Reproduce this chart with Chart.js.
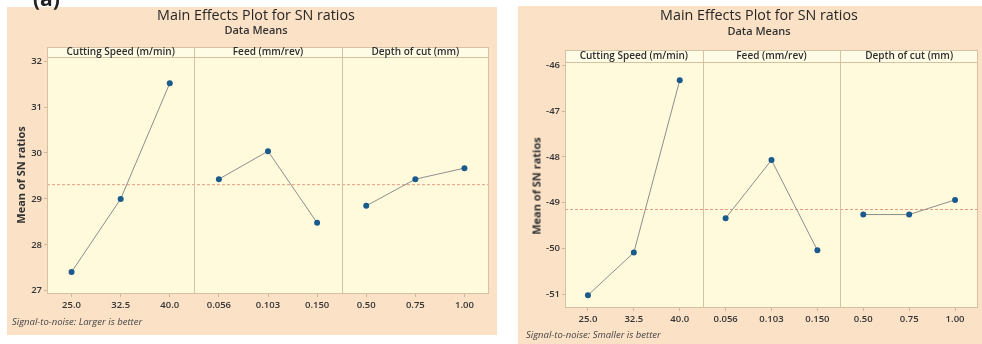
<!DOCTYPE html>
<html>
<head>
<meta charset="utf-8">
<script src="https://cdn.jsdelivr.net/npm/chart.js@4.4.1/dist/chart.umd.min.js"></script>
<style>
  body { margin: 0; width: 982px; height: 344px; overflow: hidden; background: #fff; font-family: "Open Sans", sans-serif; color: #333; }
  .sheet { position: absolute; background: #fbe2c7; }
  .sheet canvas { position: absolute; left: 0; top: 0; }
  .title { position: absolute; left: 0; width: 100%; text-align: center; font-size: 14.3px; color: #262626; }
  .subtitle { position: absolute; left: 0; width: 100%; text-align: center; font-size: 11px; font-weight: 600; }
  .ytitle { position: absolute; font-size: 11px; font-weight: 700; white-space: nowrap; transform: translate(-50%, -50%) rotate(-90deg); }
  .note { position: absolute; font-size: 9.5px; font-style: italic; color: #444; white-space: nowrap; }
  .tag { position: absolute; left: 33px; top: -16px; font-size: 21px; font-weight: 700; color: #222; }
</style>
</head>
<body>
<div class="sheet" id="sheetL" style="left:7px; top:7px; width:490px; height:328px;">
  <canvas id="chartL" width="490" height="328"></canvas>
  <div class="title" style="top:-2px; left:4px;">Main Effects Plot for SN ratios</div>
  <div class="subtitle" style="top:15px; left:4px;">Data Means</div>
  <div class="ytitle" style="left:13px; top:168px;">Mean of SN ratios</div>
  <div class="note" style="left:5px; top:308px;">Signal-to-noise: Larger is better</div>
</div>
<div class="tag">(a)</div>
<div class="sheet" id="sheetR" style="left:518px; top:6px; width:464px; height:338px;">
  <canvas id="chartR" width="464" height="338"></canvas>
  <div class="title" style="top:-1px; left:9px;">Main Effects Plot for SN ratios</div>
  <div class="subtitle" style="top:17px; left:9px;">Data Means</div>
  <div class="ytitle" style="left:18px; top:180px;">Mean of SN ratios</div>
  <div class="note" style="left:8px; top:322px;">Signal-to-noise: Smaller is better</div>
</div>
<script>
// 因子名と水準
const factorNames = ["Cutting Speed (m/min)", "Feed (mm/rev)", "Depth of cut (mm)"];
const speedLevels = ["25.0", "32.5", "40.0"];
const feedLevels = ["0.056", "0.103", "0.150"];
const depthLevels = ["0.50", "0.75", "1.00"];

// (a) Larger is better
const speedLarger = [27.41, 29.0, 31.52];
const feedLarger = [29.43, 30.04, 28.48];
const depthLarger = [28.85, 29.43, 29.67];
const meanLarger = 29.31;
const ticksLarger = [27, 28, 29, 30, 31, 32];

// Smaller is better
const speedSmaller = [-51.02, -50.09, -46.33];
const feedSmaller = [-49.34, -48.07, -50.04];
const depthSmaller = [-49.26, -49.26, -48.94];
const meanSmaller = -49.15;
const ticksSmaller = [-51, -50, -49, -48, -47, -46];

const levelGroups = [speedLevels, feedLevels, depthLevels];

// パネル背景・区切り・平均線
const panelPlugin = {
  id: "panels",
  beforeDraw(chart, args, opts) {
    const { ctx, chartArea: a } = chart;
    ctx.save();
    ctx.fillStyle = "#fffadb";
    ctx.fillRect(a.left, a.top, a.right - a.left, a.bottom - a.top);
    ctx.fillStyle = "#fffce6";
    ctx.fillRect(a.left, a.top - opts.header, a.right - a.left, opts.header);
    ctx.restore();
  },
  beforeDatasetsDraw(chart, args, opts) {
    const { ctx, chartArea: a, scales } = chart;
    const x = scales.x;
    const y = scales.y;
    ctx.save();
    // 平均線
    const my = y.getPixelForValue(opts.mean);
    ctx.strokeStyle = "#e49b86";
    ctx.lineWidth = 1;
    ctx.setLineDash([3, 2]);
    ctx.beginPath();
    ctx.moveTo(a.left, my);
    ctx.lineTo(a.right, my);
    ctx.stroke();
    ctx.setLineDash([]);

    // 枠と区切り
    ctx.strokeStyle = "#d6c1a3";
    ctx.strokeRect(a.left + 0.5, a.top - opts.header + 0.5, a.right - a.left - 1, a.bottom - a.top + opts.header - 1);
    ctx.beginPath();
    ctx.moveTo(a.left, a.top + 0.5);
    ctx.lineTo(a.right, a.top + 0.5);
    ctx.stroke();
    const bounds = [a.left];
    for (let g = 1; g < levelGroups.length; g++) {
      const edge = (x.getPixelForValue(g * 3 - 1) + x.getPixelForValue(g * 3)) / 2;
      bounds.push(edge);
      ctx.beginPath();
      ctx.moveTo(Math.round(edge) + 0.5, a.top - opts.header);
      ctx.lineTo(Math.round(edge) + 0.5, a.bottom);
      ctx.stroke();
    }
    bounds.push(a.right);

    // 見出し
    ctx.fillStyle = "#2e2e2e";
    ctx.font = "600 10px 'Open Sans'";
    ctx.textAlign = "center";
    ctx.textBaseline = "middle";
    factorNames.forEach((name, i) => {
      ctx.fillText(name, (bounds[i] + bounds[i + 1]) / 2, a.top - opts.header / 2);
    });
    ctx.restore();
  },
};

function makeChart(canvasId, series, mean, yTicks, yMin, yMax, box) {
  const labels = [].concat(...levelGroups);
  const datasets = series.map((vals, g) => ({
    data: levelGroups[g].map((lv, i) => ({ x: lv, y: vals[i] })),
    borderColor: "#8e8e8e",
    borderWidth: 1,
    pointRadius: 3,
    pointBackgroundColor: "#1b5a8c",
    pointBorderWidth: 0,
  }));

  return new Chart(document.getElementById(canvasId), {
    type: "line",
    data: { labels, datasets },
    options: {
      responsive: false,
      animation: false,
      events: [],
      layout: { padding: { top: box.top, right: box.right, left: 0, bottom: 0 } },
      scales: {
        x: {
          type: "category",
          offset: true,
          border: { display: false },
          grid: { drawOnChartArea: false, offset: false, tickLength: 3, color: "#cdb898" },
          ticks: { color: "#333", font: { family: "Open Sans", size: 9.5, weight: "600" }, padding: 3, maxRotation: 0 },
          afterFit(s) { s.height = box.xHeight; },
        },
        y: {
          min: yMin,
          max: yMax,
          border: { display: false },
          grid: { drawOnChartArea: false, tickLength: 3, color: "#cdb898" },
          afterBuildTicks(s) { s.ticks = yTicks.map((v) => ({ value: v })); },
          ticks: { color: "#333", font: { family: "Open Sans", size: 9.5, weight: "600" }, padding: 2 },
          afterFit(s) { s.width = box.yWidth; },
        },
      },
      plugins: {
        legend: { display: false },
        tooltip: { enabled: false },
        panels: { mean, header: box.header },
      },
    },
    plugins: [panelPlugin],
  });
}

makeChart("chartL", [speedLarger, feedLarger, depthLarger], meanLarger, ticksLarger, 26.93, 32.09,
  { top: 50, right: 8, xHeight: 41, yWidth: 40, header: 10 });
makeChart("chartR", [speedSmaller, feedSmaller, depthSmaller], meanSmaller, ticksSmaller, -51.3, -45.93,
  { top: 56, right: 2, xHeight: 36, yWidth: 47, header: 12 });
</script>
</body>
</html>
